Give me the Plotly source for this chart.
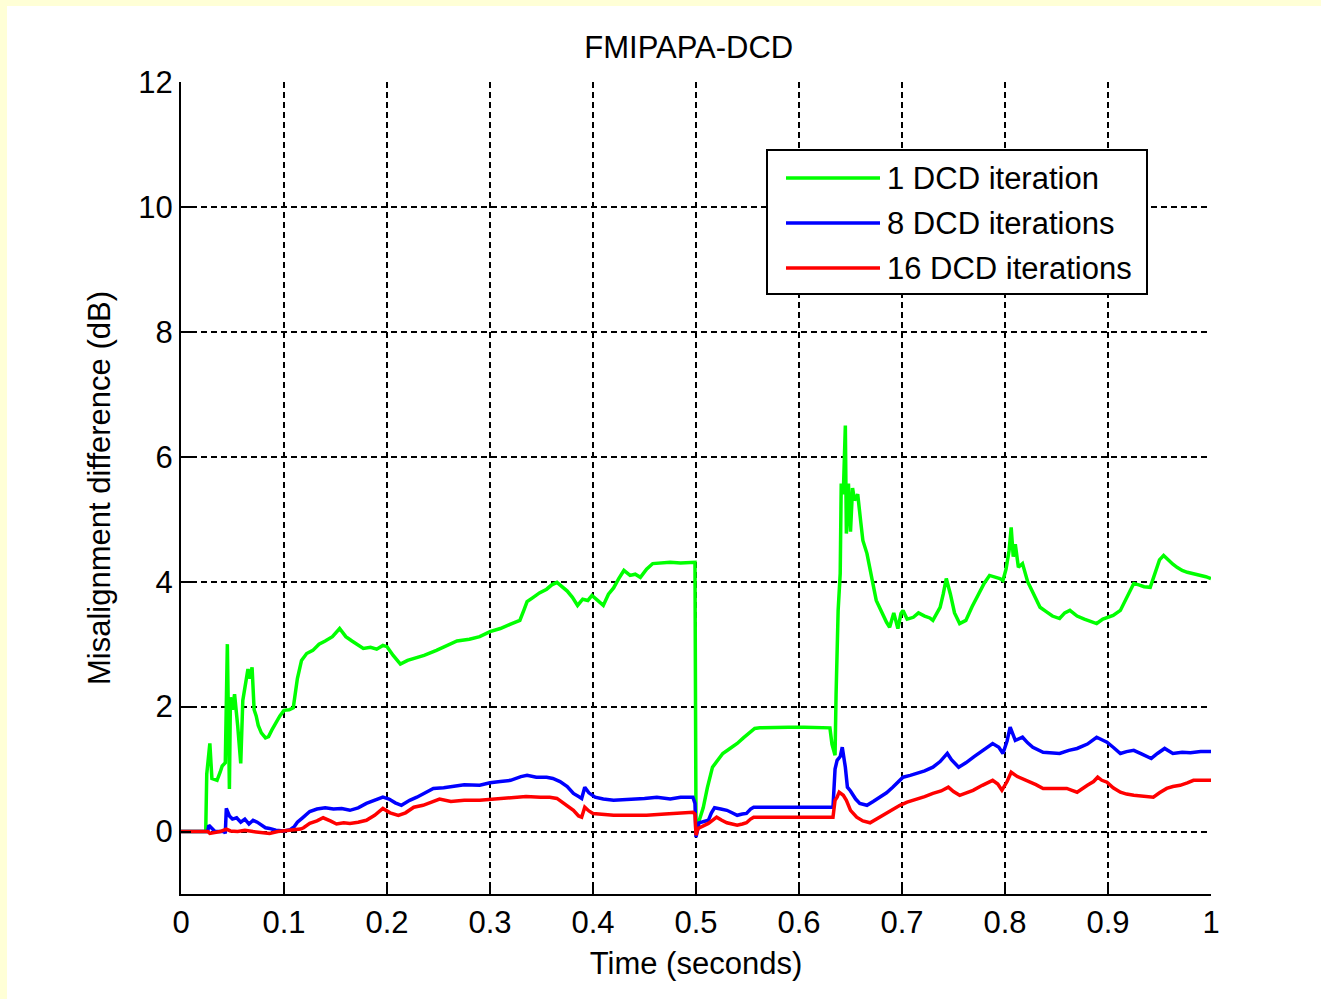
import plotly.graph_objects as go

# ---------------- data ----------------
green_t = [0, .024, .025, .028, .030, .035, .038, .040, .043, .045,
           .047, .048, .050, .052, .055, .058, .060, .062, .065, .067,
           .069, .071, .073, .075, .078, .082, .085, .088, .092, .096,
           .100, .105, .109, .113, .117, .122, .128, .134, .140, .147,
           .154, .160, .166, .172, .177, .184, .190, .196, .200, .206,
           .213, .220, .228, .236, .248, .258, .268, .280, .290, .300,
           .310, .320, .329, .333, .336, .342, .348, .355, .360, .365,
           .370, .375, .380, .385, .390, .395, .399, .404, .410, .415,
           .420, .425, .430, .436, .441, .446, .452, .458, .465, .475,
           .485, .499, .500, .502, .507, .511, .516, .521, .526, .533,
           .540, .546, .552, .557, .562, .575, .590, .605, .620, .630,
           .632, .635, .636, .638, .640, .641, .643, .645, .646, .648,
           .650, .652, .654, .657, .660, .662, .666, .669, .672, .675,
           .679, .682, .685, .688, .692, .696, .699, .701, .705, .711,
           .716, .722, .727, .730, .734, .737, .740, .743, .747, .751,
           .756, .762, .768, .774, .780, .785, .790, .795, .798, .801,
           .804, .806, .808, .810, .813, .817, .822, .828, .834, .840,
           .846, .853, .858, .863, .870, .877, .883, .889, .895, .899,
           .905, .912, .918, .925, .930, .935, .941, .946, .950, .954,
           .958, .963, .967, .972, .977, .983, .990, .995, 1.0]
green_v = [0, 0, .92, 1.41, .85, .82, .95, 1.05, 1.10, 3.00,
           .68, 2.15, 1.95, 2.20, 1.70, 1.09, 2.10, 2.30, 2.60, 2.45,
           2.63, 1.95, 1.85, 1.70, 1.58, 1.50, 1.52, 1.62, 1.75, 1.85,
           1.94, 1.95, 1.98, 2.45, 2.74, 2.85, 2.90, 3.00, 3.05, 3.12,
           3.25, 3.12, 3.05, 2.98, 2.93, 2.95, 2.92, 2.98, 2.96, 2.82,
           2.68, 2.74, 2.78, 2.82, 2.90, 2.98, 3.05, 3.08, 3.12, 3.20,
           3.25, 3.32, 3.38, 3.55, 3.68, 3.75, 3.82, 3.88, 3.95, 3.99,
           3.92, 3.85, 3.75, 3.62, 3.72, 3.70, 3.78, 3.70, 3.62, 3.80,
           3.90, 4.05, 4.18, 4.10, 4.12, 4.07, 4.20, 4.29, 4.30, 4.31,
           4.30, 4.31, 0.10, 0.12, 0.38, 0.70, 1.03, 1.15, 1.25, 1.33,
           1.41, 1.50, 1.59, 1.65, 1.66, 1.67, 1.67, 1.67, 1.67, 1.66,
           1.40, 1.22, 2.20, 3.54, 4.13, 5.57, 5.40, 6.50, 4.77, 5.57,
           4.80, 5.50, 5.30, 5.40, 4.95, 4.66, 4.45, 4.23, 3.95, 3.70,
           3.55, 3.43, 3.35, 3.27, 3.50, 3.25, 3.49, 3.54, 3.40, 3.43,
           3.50, 3.45, 3.42, 3.38, 3.50, 3.59, 3.80, 4.05, 3.80, 3.50,
           3.33, 3.38, 3.60, 3.80, 3.98, 4.10, 4.08, 4.05, 4.02, 4.20,
           4.50, 4.87, 4.40, 4.60, 4.23, 4.29, 4.00, 3.80, 3.59, 3.52,
           3.45, 3.41, 3.50, 3.54, 3.45, 3.40, 3.36, 3.33, 3.40, 3.43,
           3.46, 3.54, 3.75, 3.97, 3.95, 3.92, 3.91, 4.15, 4.35, 4.42,
           4.35, 4.28, 4.23, 4.18, 4.15, 4.13, 4.10, 4.08, 4.05]

blue_t = [0, .026, .027, .030, .033, .042, .043, .044, .047, .050,
          .054, .058, .062, .066, .070, .074, .078, .082, .086, .092,
          .100, .106, .110, .113, .118, .125, .132, .140, .148, .156,
          .164, .172, .180, .188, .196, .202, .208, .214, .222, .229,
          .237, .245, .255, .265, .275, .290, .300, .310, .320, .330,
          .336, .345, .355, .361, .368, .375, .381, .386, .389, .392,
          .396, .402, .410, .420, .435, .450, .462, .475, .485, .497,
          .499, .500, .503, .508, .512, .515, .518, .524, .530, .535,
          .540, .545, .549, .553, .556, .580, .610, .633, .635, .637,
          .640, .642, .645, .647, .650, .655, .659, .666, .672, .679,
          .685, .691, .696, .701, .708, .715, .722, .730, .737, .744,
          .748, .755, .762, .770, .778, .788, .794, .798, .802, .805,
          .810, .817, .822, .827, .837, .845, .853, .862, .870, .880,
          .889, .894, .899, .905, .912, .918, .925, .933, .942, .948,
          .955, .963, .972, .980, .990, 1.0]
blue_v = [0, 0, .10, .05, 0, 0, -.03, .37, .25, .20,
          .22, .15, .20, .12, .18, .15, .10, .06, .05, .02,
          .01, .03, .08, .15, .22, .32, .36, .38, .36, .37,
          .34, .38, .45, .50, .55, .52, .46, .42, .50, .55,
          .62, .69, .70, .73, .75, .74, .78, .80, .82, .88,
          .90, .87, .87, .85, .80, .72, .61, .56, .53, .71,
          .62, .55, .52, .50, .51, .53, .55, .52, .55, .55,
          .45, -.09, .14, .16, .18, .30, .38, .36, .34, .30,
          .26, .28, .29, .36, .39, .39, .39, .39, 1.00, 1.14,
          1.20, 1.35, 1.03, .71, .65, .52, .45, .42, .48, .55,
          .62, .71, .80, .87, .90, .93, .97, 1.03, 1.12, 1.25,
          1.15, 1.03, 1.10, 1.20, 1.30, 1.41, 1.35, 1.25, 1.45, 1.67,
          1.46, 1.51, 1.42, 1.35, 1.27, 1.26, 1.25, 1.30, 1.33, 1.40,
          1.51, 1.47, 1.43, 1.35, 1.25, 1.28, 1.30, 1.24, 1.17, 1.25,
          1.33, 1.25, 1.27, 1.26, 1.28, 1.28]

red_t = [0, .026, .028, .034, .038, .044, .048, .055, .062, .070,
         .078, .086, .094, .100, .110, .116, .119, .125, .132, .138,
         .145, .151, .158, .164, .172, .180, .188, .196, .203, .211,
         .218, .226, .235, .243, .251, .262, .275, .290, .305, .323,
         .335, .349, .358, .365, .372, .381, .386, .389, .392, .396,
         .400, .410, .420, .440, .452, .470, .485, .497, .499, .500,
         .502, .506, .512, .516, .520, .525, .530, .535, .540, .545,
         .549, .553, .556, .590, .633, .635, .637, .639, .643, .646,
         .650, .656, .662, .669, .675, .682, .690, .698, .705, .711,
         .715, .722, .730, .738, .745, .750, .756, .763, .769, .778,
         .788, .793, .797, .802, .806, .812, .821, .830, .837, .848,
         .860, .865, .870, .880, .886, .890, .894, .899, .905, .912,
         .918, .925, .935, .944, .950, .957, .963, .970, .977, .983,
         .990, 1.0]
red_v = [0, 0, -.03, -.02, 0, .04, .01, 0, .02, 0,
         -.02, -.03, 0, .01, .02, .04, .06, .13, .17, .22,
         .17, .12, .14, .13, .15, .18, .26, .37, .30, .26,
         .30, .39, .42, .47, .52, .48, .50, .50, .52, .55,
         .56, .55, .55, .53, .45, .34, .25, .23, .39, .33,
         .29, .27, .26, .26, .26, .28, .29, .31, .28, -.06,
         .05, .08, .13, .18, .23, .18, .14, .12, .10, .12,
         .14, .20, .23, .23, .23, .50, .55, .63, .58, .50,
         .34, .23, .17, .14, .20, .26, .34, .42, .47, .50,
         .52, .56, .61, .65, .71, .64, .58, .62, .66, .74,
         .82, .76, .66, .80, .95, .88, .82, .75, .69, .69,
         .69, .66, .63, .74, .80, .87, .82, .79, .70, .63,
         .60, .58, .56, .55, .62, .69, .72, .74, .78, .82,
         .82, .82]

series_names = ["1 DCD iteration", "8 DCD iterations", "16 DCD iterations"]
series_colors = ["#00FF00", "#0000FF", "#FF0000"]

x_ticks = [0, .1, .2, .3, .4, .5, .6, .7, .8, .9, 1]
x_ticktext = ["0", "0.1", "0.2", "0.3", "0.4", "0.5", "0.6", "0.7", "0.8", "0.9", "1"]
y_ticks = [0, 2, 4, 6, 8, 10, 12]

# ---------------- figure ----------------
FONT = "Liberation Sans, Arial, sans-serif"
FS = 31
W, H = 1321, 999
ML, MR, MT, MB = 181, 110, 82, 105
PW, PH = W - ML - MR, H - MT - MB

fig = go.Figure()
for t, v, name, col in zip([green_t, blue_t, red_t], [green_v, blue_v, red_v],
                           series_names, series_colors):
    fig.add_trace(go.Scatter(x=t, y=v, mode="lines", name=name,
                             line=dict(color=col, width=3.5), showlegend=False))

def px_to_x(px):
    return (px - ML) / PW

def py_to_y(py):
    # data y from pixel row: y range [-1, 12]
    return 12 - (py - MT) / PH * 13

shapes = []
# yellow frame strips (top and left)
shapes.append(dict(type="rect", xref="paper", yref="paper", layer="below",
                   x0=-ML / PW, x1=(7 - ML) / PW, y0=-MB / PH, y1=(PH + MT) / PH,
                   fillcolor="#FFFFD6", line=dict(width=0)))
shapes.append(dict(type="rect", xref="paper", yref="paper", layer="below",
                   x0=-ML / PW, x1=(W - ML) / PW, y0=(PH + MT - 6) / PH, y1=(PH + MT) / PH,
                   fillcolor="#FFFFD6", line=dict(width=0)))

# manual MATLAB-style legend box
box_x0, box_x1, box_y0, box_y1 = 767, 1147, 150, 294
shapes.append(dict(type="rect", xref="x", yref="y", layer="above",
                   x0=px_to_x(box_x0), x1=px_to_x(box_x1),
                   y0=py_to_y(box_y1), y1=py_to_y(box_y0),
                   fillcolor="white", line=dict(color="black", width=2)))
annotations = []
for i, (name, col) in enumerate(zip(series_names, series_colors)):
    rowy = 178 + 45 * i
    shapes.append(dict(type="line", xref="x", yref="y", layer="above",
                       x0=px_to_x(786), x1=px_to_x(880),
                       y0=py_to_y(rowy), y1=py_to_y(rowy),
                       line=dict(color=col, width=3.5)))
    annotations.append(dict(xref="x", yref="y", x=px_to_x(885), y=py_to_y(rowy),
                            text=name, showarrow=False, xanchor="left", yanchor="middle",
                            font=dict(family=FONT, size=FS, color="black")))

axis_common = dict(showline=True, linecolor="black", linewidth=2, mirror=False,
                   ticks="inside", ticklen=10, tickwidth=2, tickcolor="black",
                   showgrid=True, gridcolor="black", gridwidth=2, griddash="6px,4px",
                   zeroline=False, tickfont=dict(family=FONT, size=FS, color="black"))

fig.update_layout(
    width=W, height=H,
    margin=dict(l=ML, r=MR, t=MT, b=MB, autoexpand=False),
    paper_bgcolor="white", plot_bgcolor="white",
    font=dict(family=FONT, size=FS, color="black"),
    title=dict(text="FMIPAPA-DCD", x=0.493, xref="paper", xanchor="center",
               y=1 - 47 / H, yref="container", yanchor="middle",
               font=dict(family=FONT, size=FS, color="black")),
    xaxis=dict(range=[0, 1], tickvals=x_ticks, ticktext=x_ticktext,
               title=dict(text="Time (seconds)", standoff=13,
                          font=dict(family=FONT, size=FS, color="black")),
               **axis_common),
    yaxis=dict(range=[-1, 12], tickvals=y_ticks,
               title=dict(text="Misalignment difference (dB)", standoff=18,
                          font=dict(family=FONT, size=FS, color="black")),
               **axis_common),
    shapes=shapes, annotations=annotations,
    showlegend=False,
)

fig.write_html("out.html")
